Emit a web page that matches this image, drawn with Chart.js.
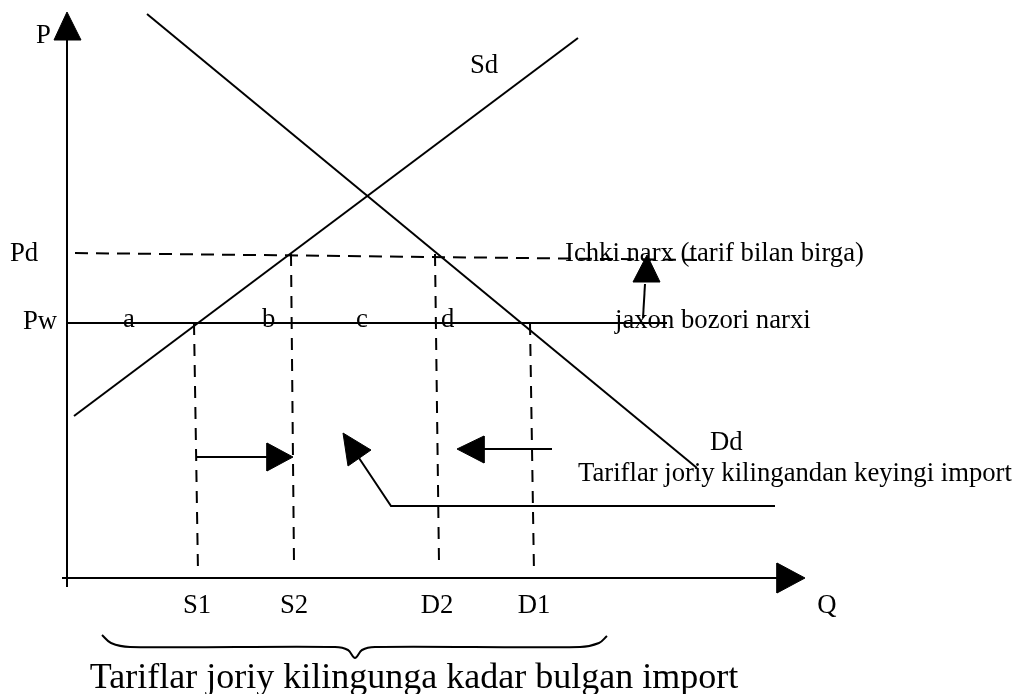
<!DOCTYPE html>
<html>
<head>
<meta charset="utf-8">
<script src="https://cdn.jsdelivr.net/npm/chart.js@4/dist/chart.umd.min.js"></script>
<style>
  html, body { margin: 0; padding: 0; background: #fff; }
  canvas { display: block; }
</style>
</head>
<body>
<canvas id="tariffChart" width="1015" height="694"></canvas>
<script>
// quantity (Q) / price (P) points, origin at the axes corner
var supplyCurve = [[7, 162], [511, 540]];          // Sd
var demandCurve = [[80, 564], [630, 110]];         // Dd
var worldPrice = [[0, 255], [600, 255]];           // Pw
var domesticPrice = [[8, 325], [633, 318]];        // Pd (tariff included)

var dropS1 = [[127, 255], [131, 6]];
var dropS2 = [[224, 324], [227, 15]];
var dropD2 = [[368, 324], [372, 15]];
var dropD1 = [[463, 255], [467, 5]];

var pAxis = [[0, -9], [0, 540]];
var qAxis = [[-5, 0], [712, 0]];
var pAxisHead = [[0, 566], [-13, 538], [14, 538], [0, 566]];
var qAxisHead = [[738, 0], [710, 15], [710, -15], [738, 0]];

var supplyShift = [[130, 121], [202, 121]];
var supplyShiftHead = [[226, 121], [200, 135], [200, 107], [226, 121]];
var demandShift = [[485, 129], [415, 129]];
var demandShiftHead = [[390, 129], [417, 142], [417, 115], [390, 129]];
var importPointer = [[708, 72], [324, 72], [292, 120]];
var importPointerHead = [[276, 145], [304, 128], [281, 112], [276, 145]];
var tariffPointer = [[576, 260], [578, 294]];
var tariffPointerHead = [[580, 323], [566, 296], [593, 296], [580, 323]];

var braceCurve = [[35, -57], [44, -65], [63, -69], [268, -69], [281, -72], [288, -80],
                  [295, -72], [308, -69], [513, -69], [532, -65], [540, -58]];

var labelTexts = ['P', 'Sd', 'Pd', 'Pw', 'a', 'b', 'c', 'd',
                  'Ichki narx (tarif bilan birga)', 'jaxon bozori narxi', 'Dd',
                  'Tariflar joriy kilingandan keyingi import',
                  'S1', 'S2', 'D2', 'D1', 'Q',
                  'Tariflar joriy kilingunga kadar bulgan import'];
var labelQ = [-31, 403, -57, -44, 56, 195, 289, 374,
              498, 548, 643, 511,
              130, 227, 370, 467, 760, 347];
var labelP = [535, 505, 317, 249, 251, 251, 251, 251,
              317, 250, 128, 97,
              -35, -35, -35, -35, -35, -110];

function pts(arr) {
    return arr.map(function (p) { return { x: p[0], y: p[1] }; });
}

function lineSet(arr, dash) {
    return {
        data: pts(arr),
        showLine: true,
        borderColor: '#000',
        borderWidth: 2,
        borderDash: dash || [],
        pointRadius: 0,
        fill: false
    };
}

function headSet(arr) {
    return {
        data: pts(arr),
        showLine: true,
        borderColor: '#000',
        backgroundColor: '#000',
        borderWidth: 1,
        pointRadius: 0,
        fill: 'shape'
    };
}

var braceSet = lineSet(braceCurve);
braceSet.tension = 0.35;

// text is placed through the same scales as the lines
var labelStyle = {
    big: 36,
    normal: 26.7,
    centred: [12, 13, 14, 15, 16, 17]
};

var labelPlugin = {
    id: 'diagramLabels',
    afterDatasetsDraw: function (chart) {
        var ctx = chart.ctx;
        var xs = chart.scales.x, ys = chart.scales.y;
        ctx.save();
        ctx.fillStyle = '#000';
        ctx.textBaseline = 'alphabetic';
        for (var i = 0; i < labelTexts.length; i++) {
            var size = (i === labelTexts.length - 1) ? labelStyle.big : labelStyle.normal;
            ctx.font = size + 'px "Liberation Serif", "Times New Roman", serif';
            ctx.textAlign = labelStyle.centred.indexOf(i) >= 0 ? 'center' : 'left';
            ctx.fillText(labelTexts[i], xs.getPixelForValue(labelQ[i]), ys.getPixelForValue(labelP[i]));
        }
        ctx.restore();
    }
};

new Chart(document.getElementById('tariffChart').getContext('2d'), {
    type: 'scatter',
    data: {
        datasets: [
            lineSet(pAxis), lineSet(qAxis), headSet(pAxisHead), headSet(qAxisHead),
            lineSet(supplyCurve), lineSet(demandCurve), lineSet(worldPrice),
            lineSet(domesticPrice, [13, 8]),
            lineSet(dropS1, [12, 9]), lineSet(dropS2, [12, 9]),
            lineSet(dropD2, [12, 9]), lineSet(dropD1, [12, 9]),
            lineSet(supplyShift), headSet(supplyShiftHead),
            lineSet(demandShift), headSet(demandShiftHead),
            lineSet(importPointer), headSet(importPointerHead),
            lineSet(tariffPointer), headSet(tariffPointerHead),
            braceSet
        ]
    },
    options: {
        responsive: false,
        animation: false,
        layout: { padding: 0 },
        scales: {
            x: { type: 'linear', min: -67, max: 948, display: false },
            y: { type: 'linear', min: -116, max: 578, display: false }
        },
        plugins: {
            legend: { display: false },
            tooltip: { enabled: false }
        }
    },
    plugins: [labelPlugin]
});
</script>
</body>
</html>
